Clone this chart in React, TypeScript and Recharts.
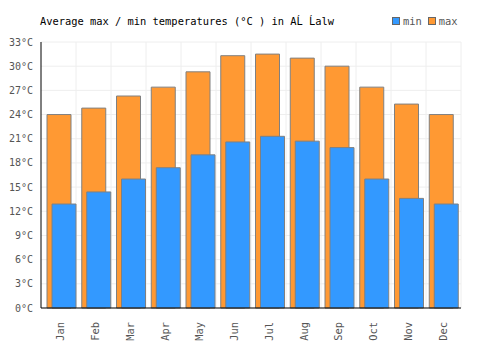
import { BarChart, Bar, XAxis, YAxis, CartesianGrid } from "recharts";

const months = ["Jan", "Feb", "Mar", "Apr", "May", "Jun", "Jul", "Aug", "Sep", "Oct", "Nov", "Dec"];
const minTemps = [12.9, 14.4, 16.0, 17.4, 19.0, 20.6, 21.3, 20.7, 19.9, 16.0, 13.6, 12.9];
const maxTemps = [24.0, 24.8, 26.3, 27.4, 29.3, 31.3, 31.5, 31.0, 30.0, 27.4, 25.3, 24.0];
const yTicks = [0, 3, 6, 9, 12, 15, 18, 21, 24, 27, 30, 33];

const FONT = "'DejaVu Sans Mono', monospace";

const data = months.map((m, i) => ({ month: m, min: minTemps[i], max: maxTemps[i] }));

function MonthTick(props: any) {
  const { x, y, payload } = props;
  return (
    <text
      x={x}
      y={y}
      transform={`rotate(-90, ${x}, ${y})`}
      dx={-6}
      dy={3}
      textAnchor="end"
      fontFamily={FONT}
      fontSize={10.4}
      fill="#555"
    >
      {payload.value}
    </text>
  );
}

function LegendBox() {
  const item = (color: string, label: string) => (
    <span style={{ display: "inline-flex", alignItems: "center", marginLeft: 6 }}>
      <span
        style={{
          display: "inline-block",
          width: 6,
          height: 6,
          background: color,
          border: "1px solid #666",
          marginRight: 3,
        }}
      />
      {label}
    </span>
  );
  return (
    <div
      style={{
        position: "absolute",
        left: 386,
        top: 15,
        fontFamily: FONT,
        fontSize: 10.4,
        color: "#555",
        display: "flex",
      }}
    >
      {item("#3399ff", "min")}
      {item("#ff9933", "max")}
    </div>
  );
}

export default function App() {
  return (
    <div style={{ position: "absolute", left: 0, top: 0, width: 500, height: 350, background: "#fff" }}>
      <div
        style={{
          position: "absolute",
          left: 40,
          top: 15,
          fontFamily: FONT,
          fontSize: 10.4,
          color: "#000",
          whiteSpace: "pre",
        }}
      >
        Average max / min temperatures (°C ) in AĹ Ĺalw
      </div>
      <LegendBox />
      <BarChart
        width={500}
        height={350}
        data={data}
        margin={{ top: 42, right: 39, left: 5, bottom: 0 }}
        barSize={24}
        barGap={-19}
      >
        <CartesianGrid
          stroke="#eee"
          verticalCoordinatesGenerator={({ offset }: any) =>
            months.map((_, i) => offset.left + ((i + 1) * offset.width) / months.length)
          }
        />
        <XAxis
          dataKey="month"
          tick={<MonthTick />}
          tickLine={false}
          axisLine={{ stroke: "#000" }}
          height={42}
          interval={0}
          padding={{ left: 3, right: 0 }}
        />
        <YAxis
          width={36}
          domain={[0, 33]}
          ticks={yTicks}
          tickFormatter={(v) => `${v}°C`}
          tickLine={false}
          axisLine={{ stroke: "#000" }}
          tick={{ fontFamily: FONT, fontSize: 10, fill: "#555" }}
        />
        <Bar dataKey="max" fill="#ff9933" stroke="#808080" strokeWidth={1} isAnimationActive={false} />
        <Bar dataKey="min" fill="#3399ff" stroke="#808080" strokeWidth={1} isAnimationActive={false} />
      </BarChart>
    </div>
  );
}
